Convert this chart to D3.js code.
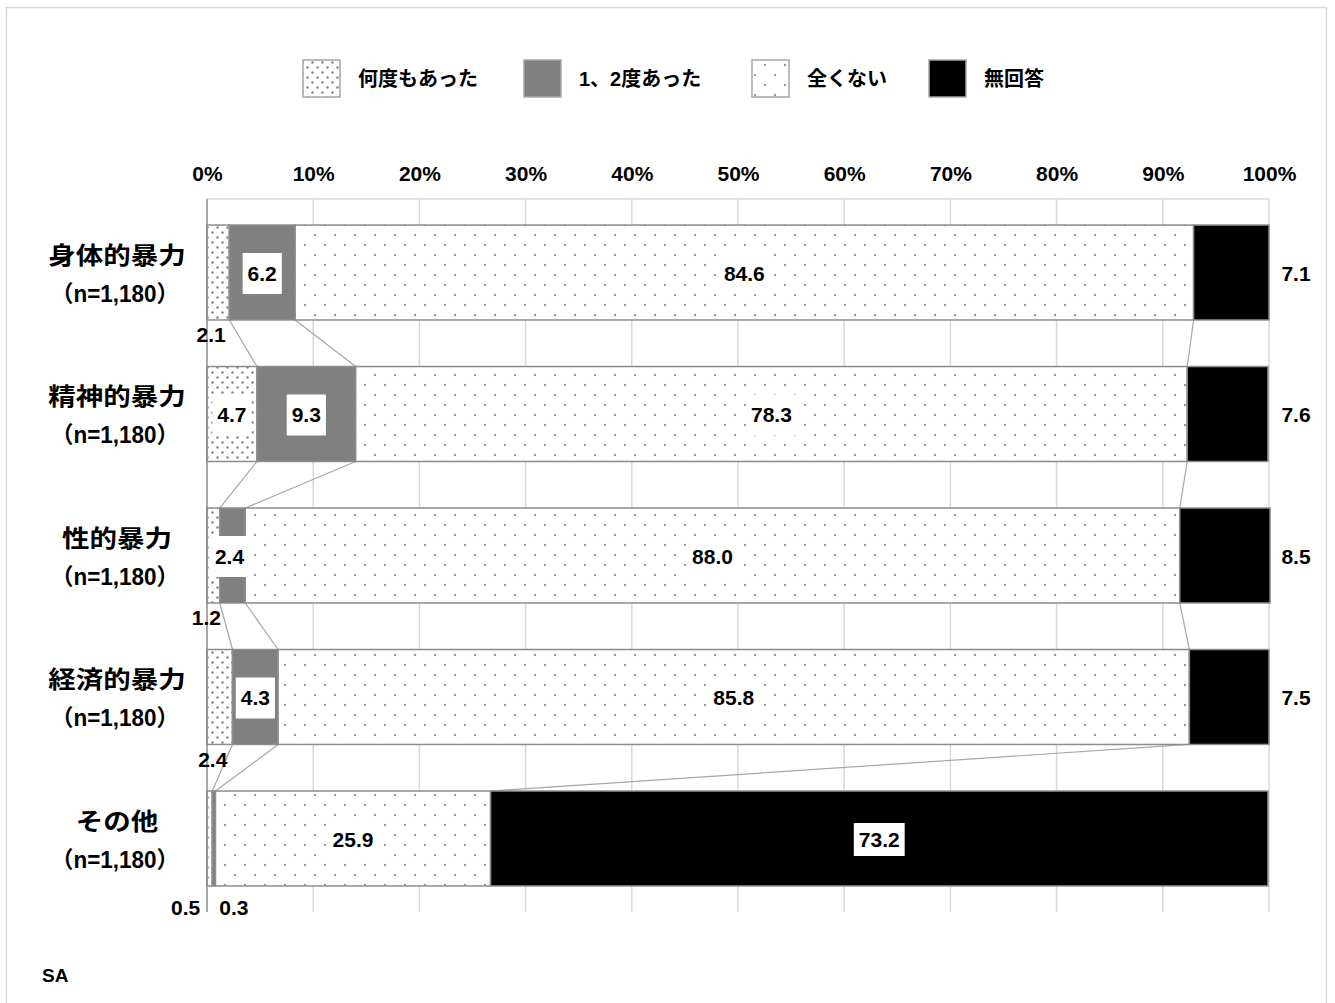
<!DOCTYPE html>
<html>
<head>
<meta charset="utf-8">
<script src="https://cdn.jsdelivr.net/npm/d3@7"></script>
<style>
  body { margin: 0; background: #fff; }
  svg text { font-family: "Liberation Sans", "Noto Sans CJK JP", sans-serif; font-weight: bold; fill: #000; }
</style>
</head>
<body>
<div id="chart"></div>
<script>
// chart values
const categories = ["身体的暴力", "精神的暴力", "性的暴力", "経済的暴力", "その他"];
const sampleLabel = "（n=1,180）";
const seriesNames = ["何度もあった", "1、2度あった", "全くない", "無回答"];
const repeated = [2.1, 4.7, 1.2, 2.4, 0.5];
const onceTwice = [6.2, 9.3, 2.4, 4.3, 0.3];
const never = [84.6, 78.3, 88.0, 85.8, 25.9];
const noAnswer = [7.1, 7.6, 8.5, 7.5, 73.2];
const tickValues = [0, 10, 20, 30, 40, 50, 60, 70, 80, 90, 100];
const noteText = "SA";

const series = [repeated, onceTwice, never, noAnswer];
const fills = ["url(#dense)", "#808080", "url(#sparse)", "#000"];

const width = 1335, height = 1003;
const margin = { top: 199, right: 66, bottom: 91, left: 207 };

const svg = d3.select("#chart").append("svg")
    .attr("width", width)
    .attr("height", height);

const defs = svg.append("defs");
const dense = defs.append("pattern").attr("id", "dense")
    .attr("patternUnits", "userSpaceOnUse").attr("width", 10).attr("height", 10);
dense.append("rect").attr("width", 10).attr("height", 10).attr("fill", "#fff");
dense.append("circle").attr("cx", 2.5).attr("cy", 2.5).attr("r", 1.3).attr("fill", "#8a8a8a");
dense.append("circle").attr("cx", 7.5).attr("cy", 7.5).attr("r", 1.3).attr("fill", "#8a8a8a");
const sparse = defs.append("pattern").attr("id", "sparse")
    .attr("patternUnits", "userSpaceOnUse").attr("width", 20).attr("height", 20);
sparse.append("rect").attr("width", 20).attr("height", 20).attr("fill", "#fff");
sparse.append("circle").attr("cx", 5).attr("cy", 5).attr("r", 1.2).attr("fill", "#999");
sparse.append("circle").attr("cx", 15).attr("cy", 15).attr("r", 1.2).attr("fill", "#999");

// outer frame
svg.append("rect")
    .attr("x", 6.5).attr("y", 7.5)
    .attr("width", 1320).attr("height", 1010)
    .attr("fill", "none").attr("stroke", "#d9d9d9").attr("stroke-width", 1.5);

const x = d3.scaleLinear().domain([0, 100]).range([margin.left, width - margin.right]);
const y = d3.scaleBand().domain(categories)
    .range([margin.top, height - margin.bottom])
    .paddingInner(0.329).paddingOuter(0.184);

// gridlines
svg.append("g").selectAll("line")
    .data(tickValues.slice(1))
    .join("line")
    .attr("x1", d => x(d)).attr("x2", d => x(d))
    .attr("y1", margin.top).attr("y2", height - margin.bottom)
    .attr("stroke", "#d9d9d9").attr("stroke-width", 1.5);

svg.append("line")
    .attr("x1", x(0)).attr("x2", x(100))
    .attr("y1", margin.top).attr("y2", margin.top)
    .attr("stroke", "#d9d9d9").attr("stroke-width", 1.5);

// top axis
const axis = svg.append("g")
    .attr("transform", `translate(0,${margin.top - 25})`)
    .call(d3.axisTop(x).tickValues(tickValues).tickFormat(d => d + "%").tickSize(0));
axis.select(".domain").remove();
axis.selectAll("text")
    .attr("dy", "0.35em")
    .attr("y", 0)
    .style("font-size", "21px");

// stacked data
const stacked = categories.map((c, i) => {
    let acc = 0;
    return series.map((s, k) => {
        const seg = { cat: c, row: i, k, v: s[i], x0: acc, x1: acc + s[i] };
        acc += s[i];
        return seg;
    });
});

// connector lines between bars
const links = [];
for (let i = 0; i < categories.length - 1; i++) {
    for (let k = 0; k < 3; k++) {
        links.push({ a: stacked[i][k].x1, b: stacked[i + 1][k].x1, i });
    }
}
svg.append("g").selectAll("line")
    .data(links)
    .join("line")
    .attr("x1", d => x(d.a))
    .attr("y1", d => y(categories[d.i]) + y.bandwidth())
    .attr("x2", d => x(d.b))
    .attr("y2", d => y(categories[d.i + 1]))
    .attr("stroke", "#a6a6a6").attr("stroke-width", 1.2);

// bars
svg.append("g").selectAll("rect")
    .data(stacked.flat())
    .join("rect")
    .attr("x", d => x(d.x0))
    .attr("y", d => y(d.cat))
    .attr("width", d => x(d.x1) - x(d.x0))
    .attr("height", y.bandwidth())
    .attr("fill", d => fills[d.k])
    .attr("stroke", "#8c8c8c").attr("stroke-width", 1.5);

// left axis line
svg.append("line")
    .attr("x1", x(0)).attr("x2", x(0))
    .attr("y1", margin.top).attr("y2", height - margin.bottom)
    .attr("stroke", "#8c8c8c").attr("stroke-width", 1.5);

// value labels
const labels = svg.append("g");
stacked.flat().forEach(d => {
    const cy = y(d.cat) + y.bandwidth() / 2;
    let cx = x((d.x0 + d.x1) / 2);
    const txt = d.v.toFixed(1);
    const last = d.row === categories.length - 1;
    if (d.k === 3 && d.v < 20) {
        labels.append("text").attr("x", x(100) + 27).attr("y", cy + 1)
            .attr("text-anchor", "middle").attr("dy", "0.35em")
            .style("font-size", "21px").text(txt);
    } else if (last && d.k < 2) {
        labels.append("text").attr("x", cx + (d.k === 0 ? -24 : 20))
            .attr("y", y(d.cat) + y.bandwidth() + 22)
            .attr("text-anchor", "middle").attr("dy", "0.35em")
            .style("font-size", "21px").text(txt);
    } else if (d.k === 0 && d.v < 3) {
        labels.append("text").attr("x", cx - 7)
            .attr("y", y(d.cat) + y.bandwidth() + 15)
            .attr("text-anchor", "middle").attr("dy", "0.35em")
            .style("font-size", "21px").text(txt);
    } else {
        // keep narrow boxes from spilling past the axis
        if (d.k === 1 && d.v < 3) cx -= 3;
        const t = labels.append("text").attr("x", cx).attr("y", cy + 1)
            .attr("text-anchor", "middle").attr("dy", "0.35em")
            .style("font-size", "21px").text(txt);
        const w = t.node().getComputedTextLength() + 10;
        const h = d.k === 3 ? 33 : 41;
        labels.insert("rect", () => t.node())
            .attr("x", cx - w / 2).attr("y", cy + 1 - h / 2)
            .attr("width", w).attr("height", h)
            .attr("fill", "#fff");
    }
});

// category labels
const cats = svg.append("g");
categories.forEach(c => {
    const cy = y(c) + y.bandwidth() / 2;
    cats.append("text").attr("x", 117).attr("y", cy - 17)
        .attr("text-anchor", "middle").attr("dy", "0.35em")
        .style("font-size", "24px")
        .attr("textLength", 27.5 * c.length)
        .attr("lengthAdjust", "spacingAndGlyphs")
        .text(c);
    cats.append("text").attr("x", 115).attr("y", cy + 21)
        .attr("text-anchor", "middle").attr("dy", "0.35em")
        .style("font-size", "23px")
        .attr("textLength", 128)
        .attr("lengthAdjust", "spacingAndGlyphs")
        .text(sampleLabel);
});

// legend
const legendX = [303, 524, 752, 929];
const legend = svg.append("g");
seriesNames.forEach((name, k) => {
    legend.append("rect")
        .attr("x", legendX[k]).attr("y", 60)
        .attr("width", 37).attr("height", 37)
        .attr("fill", fills[k])
        .attr("stroke", "#a6a6a6").attr("stroke-width", 1.5);
    legend.append("text")
        .attr("x", legendX[k] + 55).attr("y", 79)
        .attr("dy", "0.35em")
        .style("font-size", "20px")
        .text(name);
});

svg.append("text")
    .attr("x", 42).attr("y", 975).attr("dy", "0.35em")
    .style("font-size", "19px")
    .text(noteText);
</script>
</body>
</html>
